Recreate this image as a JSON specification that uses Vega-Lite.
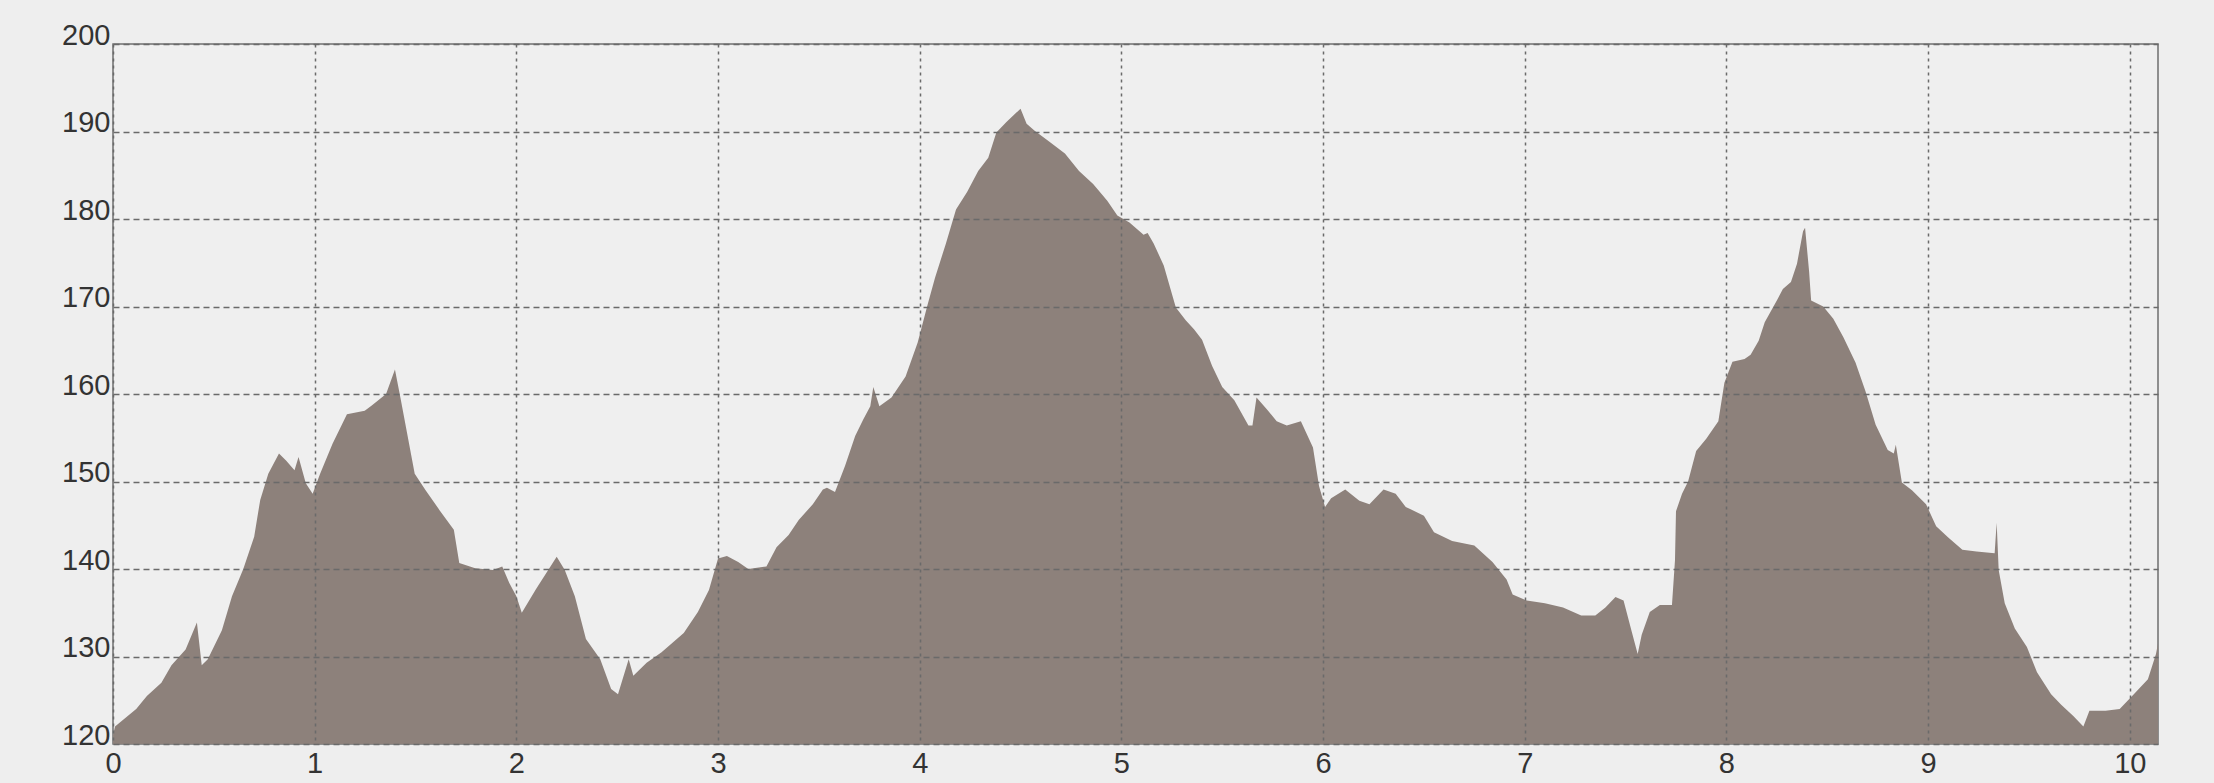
{
  "$schema": "https://vega.github.io/schema/vega-lite/v6.json",
  "width": 2045,
  "height": 700,
  "autosize": "none",
  "padding": {"left": 113, "top": 44, "right": 56, "bottom": 39},
  "background": "#eeeeee",
  "config": {
    "view": {"stroke": "#6f6f6f", "strokeWidth": 1.5, "fill": "#efefef"},
    "axis": {"labelFont": "Liberation Sans", "labelFontSize": 29, "labelColor": "#333333", "domain": false, "ticks": false}
  },
  "data": {
    "values": [
      {"km": 0, "elev": 121}, {"km": 0.01, "elev": 122}, {"km": 0.115, "elev": 124}, {"km": 0.168, "elev": 125.5},
      {"km": 0.24, "elev": 127}, {"km": 0.29, "elev": 129}, {"km": 0.36, "elev": 130.8}, {"km": 0.416, "elev": 133.9},
      {"km": 0.44, "elev": 129}, {"km": 0.47, "elev": 129.7}, {"km": 0.54, "elev": 133}, {"km": 0.59, "elev": 136.9},
      {"km": 0.646, "elev": 140}, {"km": 0.7, "elev": 143.7}, {"km": 0.73, "elev": 147.9}, {"km": 0.77, "elev": 150.9},
      {"km": 0.823, "elev": 153.2}, {"km": 0.858, "elev": 152.4}, {"km": 0.9, "elev": 151.3}, {"km": 0.92, "elev": 152.8},
      {"km": 0.956, "elev": 149.8}, {"km": 0.99, "elev": 148.6}, {"km": 1.027, "elev": 150.9}, {"km": 1.088, "elev": 154.3},
      {"km": 1.16, "elev": 157.7}, {"km": 1.248, "elev": 158.1}, {"km": 1.283, "elev": 158.7}, {"km": 1.354, "elev": 160},
      {"km": 1.398, "elev": 162.8}, {"km": 1.425, "elev": 159.6}, {"km": 1.496, "elev": 150.9}, {"km": 1.55, "elev": 149},
      {"km": 1.62, "elev": 146.7}, {"km": 1.69, "elev": 144.5}, {"km": 1.717, "elev": 140.7}, {"km": 1.796, "elev": 140.1},
      {"km": 1.885, "elev": 139.9}, {"km": 1.93, "elev": 140.3}, {"km": 1.965, "elev": 138.4}, {"km": 2.0, "elev": 136.9},
      {"km": 2.027, "elev": 135}, {"km": 2.097, "elev": 137.7}, {"km": 2.2, "elev": 141.4}, {"km": 2.24, "elev": 139.9},
      {"km": 2.29, "elev": 136.9}, {"km": 2.345, "elev": 132}, {"km": 2.416, "elev": 129.7}, {"km": 2.47, "elev": 126.3},
      {"km": 2.504, "elev": 125.7}, {"km": 2.557, "elev": 129.7}, {"km": 2.58, "elev": 127.8}, {"km": 2.646, "elev": 129.3},
      {"km": 2.72, "elev": 130.5}, {"km": 2.83, "elev": 132.7}, {"km": 2.9, "elev": 135.1}, {"km": 2.955, "elev": 137.6},
      {"km": 3.0, "elev": 141.2}, {"km": 3.044, "elev": 141.5}, {"km": 3.1, "elev": 140.8}, {"km": 3.15, "elev": 140.0},
      {"km": 3.24, "elev": 140.3}, {"km": 3.29, "elev": 142.5}, {"km": 3.35, "elev": 143.9}, {"km": 3.4, "elev": 145.6},
      {"km": 3.47, "elev": 147.4}, {"km": 3.52, "elev": 149.1}, {"km": 3.54, "elev": 149.3}, {"km": 3.58, "elev": 148.8},
      {"km": 3.63, "elev": 151.8}, {"km": 3.68, "elev": 155.2}, {"km": 3.72, "elev": 157.1}, {"km": 3.755, "elev": 158.6},
      {"km": 3.77, "elev": 160.8}, {"km": 3.8, "elev": 158.6}, {"km": 3.86, "elev": 159.6}, {"km": 3.93, "elev": 162},
      {"km": 3.99, "elev": 165.9}, {"km": 4.04, "elev": 170.3}, {"km": 4.076, "elev": 173.3}, {"km": 4.13, "elev": 177.2},
      {"km": 4.18, "elev": 181.1}, {"km": 4.235, "elev": 183.1}, {"km": 4.29, "elev": 185.5}, {"km": 4.34, "elev": 187},
      {"km": 4.38, "elev": 189.9}, {"km": 4.43, "elev": 191.1}, {"km": 4.5, "elev": 192.6}, {"km": 4.53, "elev": 190.9},
      {"km": 4.57, "elev": 190.1}, {"km": 4.64, "elev": 188.9}, {"km": 4.72, "elev": 187.5}, {"km": 4.79, "elev": 185.5},
      {"km": 4.86, "elev": 184}, {"km": 4.93, "elev": 182.1}, {"km": 4.98, "elev": 180.4}, {"km": 5.04, "elev": 179.6},
      {"km": 5.11, "elev": 178.2}, {"km": 5.13, "elev": 178.4}, {"km": 5.16, "elev": 177.2}, {"km": 5.21, "elev": 174.7},
      {"km": 5.27, "elev": 169.9}, {"km": 5.32, "elev": 168.4}, {"km": 5.36, "elev": 167.4}, {"km": 5.4, "elev": 166.2},
      {"km": 5.45, "elev": 163.2}, {"km": 5.5, "elev": 160.8}, {"km": 5.56, "elev": 159.3}, {"km": 5.63, "elev": 156.4},
      {"km": 5.65, "elev": 156.4}, {"km": 5.67, "elev": 159.6}, {"km": 5.72, "elev": 158.3}, {"km": 5.77, "elev": 156.9},
      {"km": 5.82, "elev": 156.4}, {"km": 5.89, "elev": 156.9}, {"km": 5.95, "elev": 153.9}, {"km": 5.98, "elev": 149.5},
      {"km": 6.01, "elev": 147.1}, {"km": 6.04, "elev": 148.1}, {"km": 6.11, "elev": 149.1}, {"km": 6.18, "elev": 147.8},
      {"km": 6.23, "elev": 147.4}, {"km": 6.3, "elev": 149.1}, {"km": 6.36, "elev": 148.6}, {"km": 6.41, "elev": 147.1},
      {"km": 6.5, "elev": 146.1}, {"km": 6.55, "elev": 144.2}, {"km": 6.64, "elev": 143.2}, {"km": 6.75, "elev": 142.7},
      {"km": 6.84, "elev": 140.8}, {"km": 6.91, "elev": 138.8}, {"km": 6.94, "elev": 137.1}, {"km": 7.01, "elev": 136.4},
      {"km": 7.1, "elev": 136.1}, {"km": 7.19, "elev": 135.6}, {"km": 7.28, "elev": 134.7}, {"km": 7.35, "elev": 134.7},
      {"km": 7.4, "elev": 135.6}, {"km": 7.45, "elev": 136.8}, {"km": 7.49, "elev": 136.4}, {"km": 7.53, "elev": 132.9},
      {"km": 7.56, "elev": 130.3}, {"km": 7.58, "elev": 132.5}, {"km": 7.62, "elev": 135.1}, {"km": 7.67, "elev": 135.9},
      {"km": 7.73, "elev": 135.9}, {"km": 7.745, "elev": 141}, {"km": 7.75, "elev": 146.6}, {"km": 7.78, "elev": 148.6},
      {"km": 7.81, "elev": 150}, {"km": 7.85, "elev": 153.5}, {"km": 7.9, "elev": 154.9}, {"km": 7.96, "elev": 156.9},
      {"km": 7.99, "elev": 161.3}, {"km": 8.03, "elev": 163.7}, {"km": 8.09, "elev": 164}, {"km": 8.12, "elev": 164.5},
      {"km": 8.16, "elev": 166.1}, {"km": 8.19, "elev": 168.2}, {"km": 8.25, "elev": 170.7}, {"km": 8.28, "elev": 172},
      {"km": 8.32, "elev": 172.8}, {"km": 8.35, "elev": 174.9}, {"km": 8.38, "elev": 178.6}, {"km": 8.39, "elev": 179},
      {"km": 8.41, "elev": 174}, {"km": 8.42, "elev": 170.7}, {"km": 8.48, "elev": 170}, {"km": 8.53, "elev": 168.6},
      {"km": 8.58, "elev": 166.5}, {"km": 8.64, "elev": 163.6}, {"km": 8.69, "elev": 160.3}, {"km": 8.74, "elev": 156.5},
      {"km": 8.8, "elev": 153.6}, {"km": 8.83, "elev": 153.2}, {"km": 8.84, "elev": 154.2}, {"km": 8.87, "elev": 149.9},
      {"km": 8.92, "elev": 149.0}, {"km": 8.99, "elev": 147.4}, {"km": 9.04, "elev": 144.9}, {"km": 9.1, "elev": 143.6},
      {"km": 9.17, "elev": 142.2}, {"km": 9.24, "elev": 142}, {"km": 9.33, "elev": 141.8}, {"km": 9.34, "elev": 145.3},
      {"km": 9.35, "elev": 139.9}, {"km": 9.38, "elev": 136.1}, {"km": 9.43, "elev": 133.2}, {"km": 9.49, "elev": 131.1},
      {"km": 9.54, "elev": 128.2}, {"km": 9.61, "elev": 125.7}, {"km": 9.66, "elev": 124.5}, {"km": 9.72, "elev": 123.2},
      {"km": 9.77, "elev": 122}, {"km": 9.8, "elev": 123.8}, {"km": 9.88, "elev": 123.8}, {"km": 9.95, "elev": 124.0},
      {"km": 10.02, "elev": 125.7}, {"km": 10.09, "elev": 127.4}, {"km": 10.13, "elev": 130.3}, {"km": 10.14, "elev": 131.5}
    ]
  },
  "mark": {"type": "area", "color": "#8d817b", "interpolate": "linear", "clip": true},
  "encoding": {
    "x": {
      "field": "km", "type": "quantitative",
      "scale": {"domain": [0, 10.14], "nice": false, "zero": false},
      "axis": {"title": null, "values": [0, 1, 2, 3, 4, 5, 6, 7, 8, 9, 10], "labelPadding": 5, "labelBaseline": "top",
               "grid": true, "gridColor": "#6a6a6a", "gridDash": [3, 4], "gridWidth": 1.5, "zindex": 1, "labelFlush": false}
    },
    "y": {
      "field": "elev", "type": "quantitative",
      "scale": {"domain": [120, 200], "nice": false, "zero": false},
      "axis": {"title": null, "values": [120, 130, 140, 150, 160, 170, 180, 190, 200], "labelPadding": 3, "labelBaseline": "alphabetic",
               "grid": true, "gridColor": "#6a6a6a", "gridDash": [6, 4], "gridWidth": 1.5, "zindex": 1, "labelFlush": false}
    }
  }
}
